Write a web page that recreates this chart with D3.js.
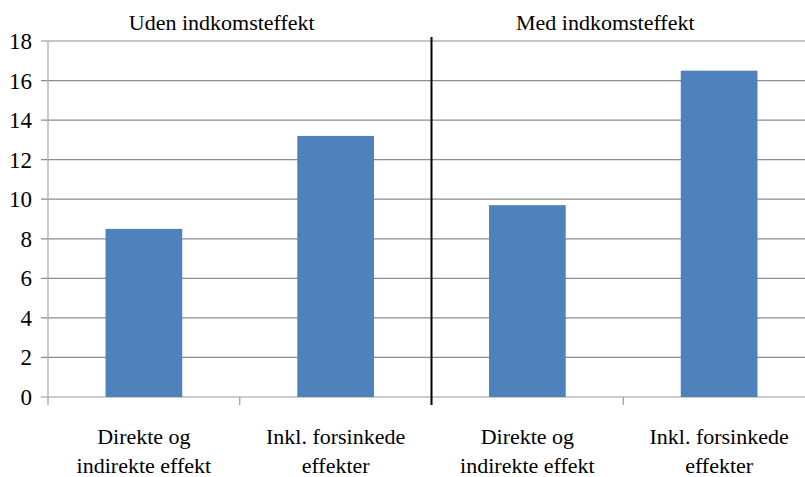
<!DOCTYPE html>
<html>
<head>
<meta charset="utf-8">
<script src="https://cdn.jsdelivr.net/npm/d3@7"></script>
<style>
  body { margin: 0; background: #fff; }
</style>
</head>
<body>
<svg id="chart" width="805" height="477"></svg>
<script>
// Income effect chart -- two panels, two bars each

var panels = ["Uden indkomsteffekt", "Med indkomsteffekt"];
var categories = ["u1", "u2", "m1", "m2"];
var categoryLabels = [
  ["Direkte og", "indirekte effekt"],
  ["Inkl. forsinkede", "effekter"],
  ["Direkte og", "indirekte effekt"],
  ["Inkl. forsinkede", "effekter"]
];
var values = [8.5, 13.2, 9.7, 16.5];
var yTicks = [0, 2, 4, 6, 8, 10, 12, 14, 16, 18];

var plotLeft = 48, plotRight = 815; // plot runs past the right edge, like the original
var plotTop = 41, plotBottom = 397;
var font = "'Liberation Serif', 'DejaVu Serif', 'Noto Serif', 'FreeSerif', 'Times New Roman', Times, serif";

var svg = d3.select("#chart")
  .attr("font-family", font)
  .style("font-family", font);

var x = d3.scaleBand().domain(categories).range([plotLeft, plotRight]).padding(0);
var y = d3.scaleLinear().domain([0, 18]).range([plotBottom, plotTop]);

// Grid lines
svg.append("g").selectAll("line")
  .data(yTicks)
  .enter().append("line")
  .attr("x1", plotLeft - 7)
  .attr("x2", plotRight)
  .attr("y1", function (d) { return y(d); })
  .attr("y2", function (d) { return y(d); })
  .attr("stroke", function (d) { return d === 0 ? "#9a9a9a" : "#8c8c8c"; })
  .attr("stroke-width", 1.2);

// Y tick labels
svg.append("g").selectAll("text")
  .data(yTicks)
  .enter().append("text")
  .attr("x", 32)
  .attr("y", function (d) { return y(d) + 8; })
  .attr("text-anchor", "end")
  .style("font-family", font)
  .style("font-size", "23px")
  .text(function (d) { return d; });

// Left axis line
svg.append("line")
  .attr("x1", plotLeft).attr("x2", plotLeft)
  .attr("y1", plotTop).attr("y2", plotBottom)
  .attr("stroke", "#a6a6a6").attr("stroke-width", 1.2);

// Category tick marks below the axis
var boundaries = categories.map(function (c) { return x(c); }).concat([plotRight]);
svg.append("g").selectAll("line")
  .data(boundaries)
  .enter().append("line")
  .attr("x1", function (d) { return d; })
  .attr("x2", function (d) { return d; })
  .attr("y1", plotBottom)
  .attr("y2", plotBottom + 8)
  .attr("stroke", "#9a9a9a").attr("stroke-width", 1.2);

// Bars
var barW = x.bandwidth() * 0.4;
svg.append("g").selectAll("rect")
  .data(values)
  .enter().append("rect")
  .attr("x", function (d, i) { return x(categories[i]) + (x.bandwidth() - barW) / 2; })
  .attr("y", function (d) { return y(d); })
  .attr("width", barW)
  .attr("height", function (d) { return y(0) - y(d); })
  .attr("fill", "#4f81bd");

// Category labels, two lines each
var labels = svg.append("g").selectAll("text")
  .data(categoryLabels)
  .enter().append("text")
  .attr("text-anchor", "middle")
  .style("font-family", font)
  .style("font-size", "22px");
labels.each(function (lines, i) {
  var cx = x(categories[i]) + x.bandwidth() / 2;
  d3.select(this).selectAll("tspan")
    .data(lines)
    .enter().append("tspan")
    .attr("x", cx)
    .attr("y", function (d, j) { return 444 + j * 29; })
    .text(function (d) { return d; });
});

// Divider between the panels
var mid = x(categories[2]);
svg.append("line")
  .attr("x1", mid).attr("x2", mid)
  .attr("y1", 37).attr("y2", 405)
  .attr("stroke", "#000").attr("stroke-width", 2);

// Panel titles
var titleX = [x(categories[0]) + x.bandwidth() - 18, x(categories[2]) + x.bandwidth() - 18];
svg.append("g").selectAll("text")
  .data(panels)
  .enter().append("text")
  .attr("x", function (d, i) { return titleX[i]; })
  .attr("y", 30)
  .attr("text-anchor", "middle")
  .style("font-family", font)
  .style("font-size", "22px")
  .text(function (d) { return d; });
</script>
</body>
</html>
